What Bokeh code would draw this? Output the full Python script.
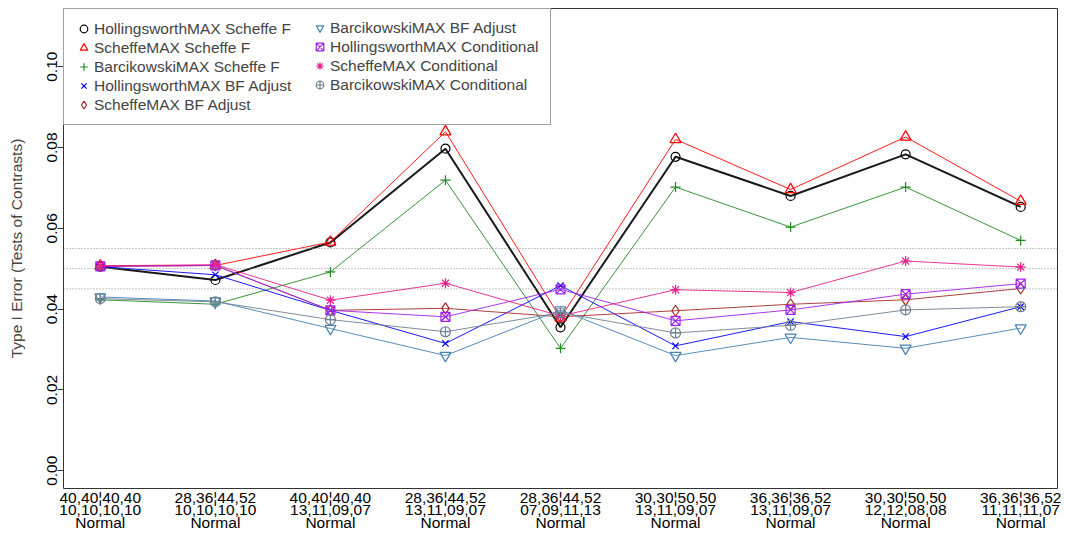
from bokeh.plotting import figure
from bokeh.models import Range1d, FixedTicker, Span, Legend, LegendItem
from bokeh.embed import file_html
from bokeh.resources import INLINE

# Design of each condition: group sizes, group SDs and distribution
group_sizes = ["40,40¦40,40", "28,36¦44,52", "40,40¦40,40", "28,36¦44,52", "28,36¦44,52",
               "30,30¦50,50", "36,36¦36,52", "30,30¦50,50", "36,36¦36,52"]
group_sds = ["10,10,10,10", "10,10,10,10", "13,11,09,07", "13,11,09,07", "07,09,11,13",
             "13,11,09,07", "13,11,09,07", "12,12,08,08", "11,11,11,07"]
distributions = ["Normal"] * 9
conditions = list(range(1, len(group_sizes) + 1))

# Type I error rates per procedure
hollingsworth_scheffe = [0.0505, 0.0472, 0.0565, 0.0797, 0.0355, 0.0777, 0.0680, 0.0783, 0.0653]
scheffe_scheffe = [0.0507, 0.0508, 0.0566, 0.0839, 0.0378, 0.0820, 0.0696, 0.0826, 0.0667]
barcikowski_scheffe = [0.0423, 0.0412, 0.0492, 0.0719, 0.0303, 0.0702, 0.0603, 0.0702, 0.0570]
hollingsworth_bf = [0.0505, 0.0485, 0.0397, 0.0315, 0.0458, 0.0309, 0.0369, 0.0332, 0.0406]
scheffe_bf = [0.0506, 0.0508, 0.0397, 0.0402, 0.0381, 0.0396, 0.0412, 0.0423, 0.0451]
barcikowski_bf = [0.0430, 0.0420, 0.0352, 0.0285, 0.0398, 0.0285, 0.0330, 0.0303, 0.0353]
hollingsworth_cond = [0.0506, 0.0508, 0.0397, 0.0381, 0.0449, 0.0371, 0.0398, 0.0437, 0.0463]
scheffe_cond = [0.0507, 0.0510, 0.0422, 0.0464, 0.0383, 0.0448, 0.0441, 0.0519, 0.0504]
barcikowski_cond = [0.0426, 0.0418, 0.0374, 0.0344, 0.0391, 0.0341, 0.0360, 0.0398, 0.0406]

# Reference band around the nominal alpha
ref_levels = [0.045, 0.050, 0.055]

y_ticks = [0.00, 0.02, 0.04, 0.06, 0.08, 0.10]

series = [
    ("HollingsworthMAX Scheffe F", hollingsworth_scheffe, "#000000", "circle", 2, 9),
    ("ScheffeMAX Scheffe F", scheffe_scheffe, "#FF0000", "triangle", 1, 11),
    ("BarcikowskiMAX Scheffe F", barcikowski_scheffe, "#228B22", "cross", 1, 10),
    ("HollingsworthMAX BF Adjust", hollingsworth_bf, "#0000FF", "x", 1, 9),
    ("ScheffeMAX BF Adjust", scheffe_bf, "#A52A2A", "diamond", 1, 11),
    ("BarcikowskiMAX BF Adjust", barcikowski_bf, "#4682B4", "inverted_triangle", 1, 11),
    ("HollingsworthMAX Conditional", hollingsworth_cond, "#A020F0", "square_x", 1, 9),
    ("ScheffeMAX Conditional", scheffe_cond, "#E6208C", "asterisk", 1, 10),
    ("BarcikowskiMAX Conditional", barcikowski_cond, "#708090", "circle_cross", 1, 10),
]

FONT = "Liberation Sans"
FS = "15.5px"

X_START, X_END = 0.68, 9.32
Y_START, Y_END = -0.0044, 0.1144
FRAME_H = 533 - 8 - 44

p = figure(
    width=1065, height=533,
    x_range=Range1d(X_START, X_END), y_range=Range1d(Y_START, Y_END),
    output_backend="svg", toolbar_location=None,
    min_border_left=63, min_border_right=8, min_border_top=8, min_border_bottom=44,
)
p.xgrid.visible = False
p.ygrid.visible = False
p.outline_line_color = "#333333"
p.outline_line_width = 1
p.background_fill_color = "white"
p.border_fill_color = "white"

# y axis
p.yaxis.ticker = FixedTicker(ticks=y_ticks)
p.yaxis.major_label_overrides = {t: f"{t:.2f}" for t in y_ticks}
p.yaxis.major_label_orientation = "vertical"
p.yaxis.axis_line_color = None
p.yaxis.minor_tick_line_color = None
p.yaxis.major_tick_out = 6
p.yaxis.major_tick_in = 0
p.yaxis.major_tick_line_color = "#333333"
p.yaxis.major_label_text_font = FONT
p.yaxis.major_label_text_font_size = FS
p.yaxis.major_label_text_color = "#000000"
p.yaxis.major_label_standoff = 0
p.yaxis.axis_label = "Type I Error (Tests of Contrasts)"
p.yaxis.axis_label_text_font = FONT
p.yaxis.axis_label_text_font_size = FS
p.yaxis.axis_label_text_font_style = "normal"
p.yaxis.axis_label_standoff = 20

# three-line condition labels under the frame
p.xaxis.ticker = FixedTicker(ticks=conditions)
p.xaxis.major_label_overrides = {
    c: f"{n}\n{sd}\n{d}" for c, n, sd, d in zip(conditions, group_sizes, group_sds, distributions)
}
p.xaxis.axis_line_color = None
p.xaxis.major_tick_line_color = None
p.xaxis.major_tick_out = 0
p.xaxis.major_tick_in = 0
p.xaxis.minor_tick_line_color = None
p.xaxis.major_label_text_font = FONT
p.xaxis.major_label_text_font_size = FS
p.xaxis.major_label_text_color = "#000000"
p.xaxis.major_label_text_line_height = 0.74
p.xaxis.major_label_standoff = 0

for lvl in ref_levels:
    p.add_layout(Span(location=lvl, dimension="width", line_color="#8c8c8c",
                      line_dash="1 2", line_width=1))

items = []
for name, vals, color, marker, lw, sz in series:
    p.line(conditions, vals, line_color=color, line_width=lw, line_alpha=0.9)
    r = p.scatter(conditions, vals, marker=marker, size=sz, line_color=color,
                  fill_color=None, line_width=1.2)
    items.append(LegendItem(label=name, renderers=[r]))

PAD, ROW = 10, 19
common = dict(
    padding=PAD, spacing=0, glyph_width=ROW, glyph_height=ROW, label_height=ROW,
    label_standoff=1, label_text_font=FONT, label_text_font_size=FS, margin=0,
)
# first column carries the border of the whole box
legend_a = Legend(items=items[:5], location="top_left", label_width=446,
                  border_line_color="#444444", border_line_width=1,
                  background_fill_color="white", background_fill_alpha=1.0, **common)
# second column sits inside the same box, top-aligned with the first
legend_b = Legend(items=items[5:], location=(247, FRAME_H - 87),
                  border_line_color=None, background_fill_alpha=0.0, **common)
p.add_layout(legend_a)
p.add_layout(legend_b)

open("out.html", "w").write(file_html(p, INLINE))
